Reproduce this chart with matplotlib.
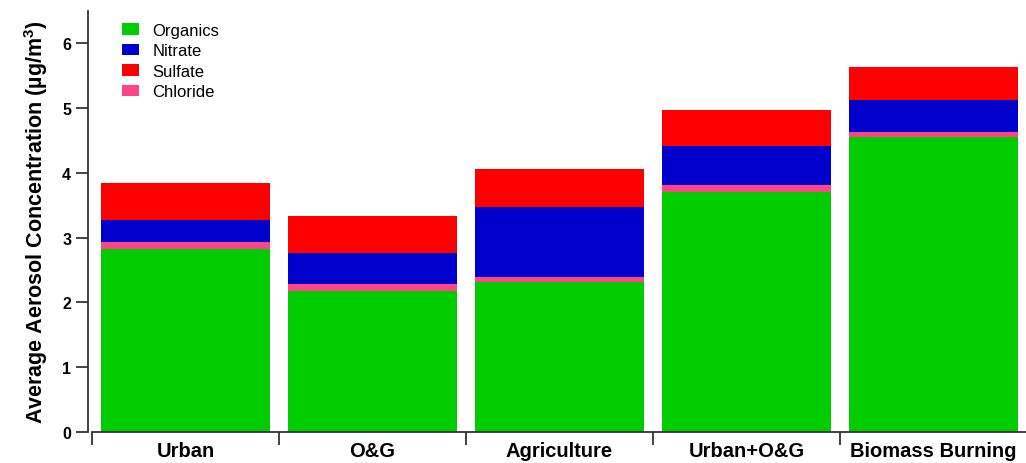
import matplotlib
matplotlib.use("Agg")
import matplotlib.pyplot as plt
import numpy as np

categories = ["Urban", "O&G", "Agriculture", "Urban+O&G", "Biomass Burning"]
organics = [2.83, 2.18, 2.32, 3.70, 4.55]
chloride = [0.10, 0.10, 0.08, 0.12, 0.08]
nitrate = [0.34, 0.49, 1.08, 0.59, 0.49]
sulfate = [0.57, 0.56, 0.58, 0.56, 0.52]
yticks = [0, 1, 2, 3, 4, 5, 6]

plt.rcParams['font.family'] = ['Liberation Sans', 'DejaVu Sans']
plt.rcParams['mathtext.fontset'] = 'custom'
plt.rcParams['mathtext.rm'] = 'Liberation Sans:bold'
plt.rcParams['mathtext.bf'] = 'Liberation Sans:bold'

fig = plt.figure(figsize=(10.26, 4.64), dpi=100)
ax = fig.add_axes([92/1026, 1 - 433/464, 935/1026, 421/464])

for s in ['top', 'right']:
    ax.spines[s].set_visible(False)
ax.spines['left'].set_position(('outward', 3))
ax.spines['left'].set_linewidth(1.3)
ax.spines['bottom'].set_linewidth(1.3)
ax.spines['left'].set_color('#333333')
ax.spines['bottom'].set_color('#333333')

x = np.arange(len(categories))
w = 0.9
c_org, c_chl, c_nit, c_sul = "#00CC00", "#FF4488", "#0000CC", "#FF0000"
b1 = ax.bar(x, organics, w, color=c_org, linewidth=0)
bot = np.array(organics)
b4 = ax.bar(x, chloride, w, bottom=bot, color=c_chl, linewidth=0)
bot = bot + np.array(chloride)
b2 = ax.bar(x, nitrate, w, bottom=bot, color=c_nit, linewidth=0)
bot = bot + np.array(nitrate)
b3 = ax.bar(x, sulfate, w, bottom=bot, color=c_sul, linewidth=0)

ax.set_xlim(-0.5, 4.5)
ax.set_ylim(0, 6.5)
ax.set_yticks(yticks)
ax.set_yticklabels([str(v) for v in yticks], fontsize=11.5, fontweight='bold')

ax.set_xticks(x)
ax.set_xticklabels(categories, fontsize=14.5, fontweight='bold')
ax.set_xticks(np.arange(-0.5, 4.6, 1.0), minor=True)
ax.tick_params(axis='x', which='major', length=0, pad=6.5)
ax.tick_params(axis='x', which='minor', length=9, width=1.3, color='#333333')
ax.tick_params(axis='y', length=8.5, width=1.3, color='#333333', pad=3.5)

ax.set_ylabel(r"Average Aerosol Concentration (µg/m$^{3}$)", fontsize=15.5, fontweight='bold', labelpad=9)

leg = ax.legend([b1, b2, b3, b4], ["Organics", "Nitrate", "Sulfate", "Chloride"],
                loc='upper left', bbox_to_anchor=(0.02, 1.0), frameon=False, fontsize=12,
                handlelength=1.0, handleheight=0.7, labelspacing=0.33, handletextpad=0.8,
                borderaxespad=0.3)

fig.savefig("out.png", dpi=100)
